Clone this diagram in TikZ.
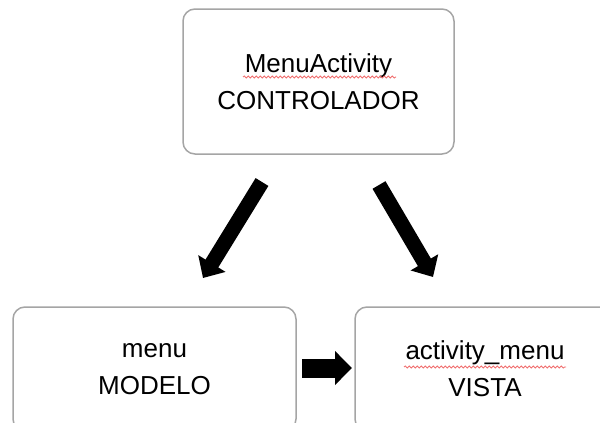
\documentclass[tikz,border=0pt]{standalone}
\usepackage{fontspec}
\setmainfont{Liberation Sans}
\usetikzlibrary{arrows.meta,decorations.pathmorphing}
\definecolor{boxgray}{RGB}{165,165,165}
\definecolor{spellred}{RGB}{240,110,110}

\begin{document}
\begin{tikzpicture}[x=1pt, y=-1pt,
    layer/.style={draw=boxgray, line width=1.5pt, rounded corners=12pt,
        align=center, inner sep=0pt, font=\fontsize{26}{37}\selectfont},
    bigarrow/.style={line width=15pt, -{Triangle[length=17pt, width=31pt]}},
    squiggle/.style={spellred, line width=0.8pt, decorate,
        decoration={snake, amplitude=1.1pt, segment length=4pt}}]
        \useasboundingbox (0,0) rectangle (600,423);

        % Boxes
        \node[layer, minimum width=271pt, minimum height=145pt] (ctrl) at (318.5,81.5)
            {MenuActivity\\CONTROLADOR};
        \node[layer, minimum width=283pt, minimum height=124pt] (modelo) at (154.5,369)
            {menu\\MODELO};
        \node[layer, minimum width=260pt, minimum height=124pt] (vista) at (485,369)
            {activity\_menu\\VISTA};

        % Arrow ends
        \coordinate (ctrl-l) at (262,182);
        \coordinate (modelo-in) at (203,278);
        \coordinate (ctrl-r) at (379,185);
        \coordinate (vista-in) at (433,277);
        \coordinate (modelo-out) at (302,368);
        \coordinate (vista-l) at (352,368);

        % Arrows
        \draw[bigarrow] (ctrl-l) -- (modelo-in);
        \draw[bigarrow] (ctrl-r) -- (vista-in);
        \draw[bigarrow, line width=19pt, -{Triangle[length=17pt, width=33pt]}]
            (modelo-out) -- (vista-l);

        % Spell-check underlines
        \draw[squiggle] (243,77) -- (396,77);
        \draw[squiggle] (404,367) -- (566,367);
    \end{tikzpicture}
\end{document}
